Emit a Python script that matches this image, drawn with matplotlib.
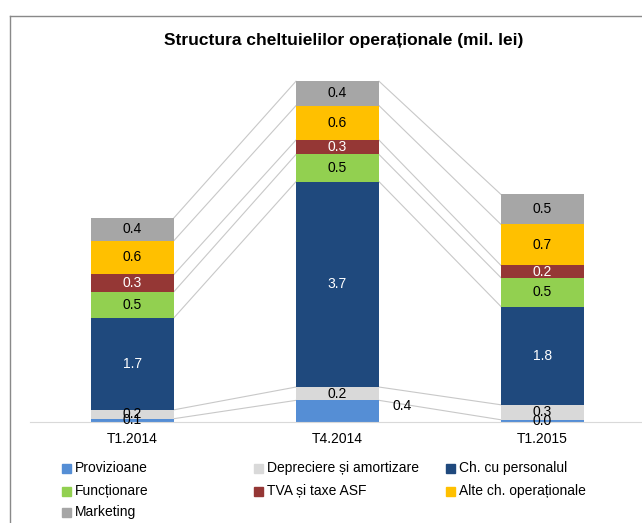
import matplotlib
matplotlib.use("Agg")
import matplotlib.pyplot as plt
from matplotlib.lines import Line2D
from matplotlib.patches import Rectangle
import numpy as np

plt.rcParams['font.family'] = ['Liberation Sans', 'DejaVu Sans']

periods = ["T1.2014", "T4.2014", "T1.2015"]
series = ["Provizioane", "Depreciere și amortizare", "Ch. cu personalul",
          "Funcționare", "TVA și taxe ASF", "Alte ch. operaționale", "Marketing"]
colors = ["#558ED5", "#D9D9D9", "#1F497D", "#92D050", "#953735", "#FFC000", "#A6A6A6"]
label_colors = ["black", "black", "white", "black", "white", "black", "black"]

# values per series, one per period (mil. lei)
provizioane = [0.06, 0.39, 0.04]
depreciere = [0.16, 0.24, 0.27]
personal = [1.66, 3.70, 1.77]
functionare = [0.47, 0.49, 0.52]
tva = [0.31, 0.26, 0.22]
alte = [0.61, 0.62, 0.74]
marketing = [0.41, 0.44, 0.54]

values = np.array([provizioane, depreciere, personal, functionare, tva, alte, marketing])

W, H = 642, 523
fig = plt.figure(figsize=(W / 100, H / 100), dpi=100)
ax = fig.add_axes([30 / W, (H - 422) / H, 615 / W, 388.5 / H])

x = np.arange(len(periods))
width = 0.405
bottom = np.zeros(len(periods))
tops = []
for i, name in enumerate(series):
    ax.bar(x, values[i], width, bottom=bottom, color=colors[i], zorder=3)
    for j in range(len(periods)):
        txt = "%.1f" % values[i][j]
        yc = bottom[j] + values[i][j] / 2
        if i == 0 and j == 1:
            # label outside the bar, like the original
            ax.text(x[j] + width / 2 + 0.068, yc + 0.1, txt, ha='left', va='center',
                    fontsize=10, color='black', zorder=5)
        else:
            ax.text(x[j], yc, txt, ha='center', va='center', fontsize=10,
                    color=label_colors[i], zorder=5)
    bottom = bottom + values[i]
    tops.append(bottom.copy())

# series lines between bars
for t in tops:
    for j in range(len(periods) - 1):
        ax.plot([x[j] + width / 2, x[j + 1] - width / 2], [t[j], t[j + 1]],
                color="#C8C8C8", lw=0.8, zorder=2)

ax.set_xlim(-0.5, 2.5)
ax.set_ylim(0, 7)
ax.set_xticks(x)
ax.set_xticklabels(periods, fontsize=10)
ax.tick_params(axis='x', length=0, pad=7)
ax.set_yticks([])
for s in ['top', 'right', 'left']:
    ax.spines[s].set_visible(False)
ax.spines['bottom'].set_color("#D9D9D9")
ax.spines['bottom'].set_zorder(4)

fig.text(344 / W, 1 - 41 / H, "Structura cheltuielilor operaționale (mil. lei)",
         ha='center', va='center', fontsize=12.5, fontweight='bold')

# legend drawn by hand in three columns
col_x = [62, 254, 446]
row_y = [468, 491, 512]
for i, name in enumerate(series):
    cx = col_x[i % 3]
    cy = row_y[i // 3]
    fig.add_artist(Rectangle((cx / W, 1 - (cy + 4.5) / H), 9 / W, 9 / H,
                             transform=fig.transFigure, color=colors[i]))
    fig.text((cx + 13) / W, 1 - cy / H, name, ha='left', va='center', fontsize=10)

# chart frame
fig.add_artist(Line2D([10.5 / W, 10.5 / W], [0, 1 - 16.5 / H], transform=fig.transFigure,
                      color="#898989", lw=1))
fig.add_artist(Line2D([10.5 / W, 1], [1 - 16.5 / H, 1 - 16.5 / H], transform=fig.transFigure,
                      color="#898989", lw=1))

fig.savefig("out.png", dpi=100)
